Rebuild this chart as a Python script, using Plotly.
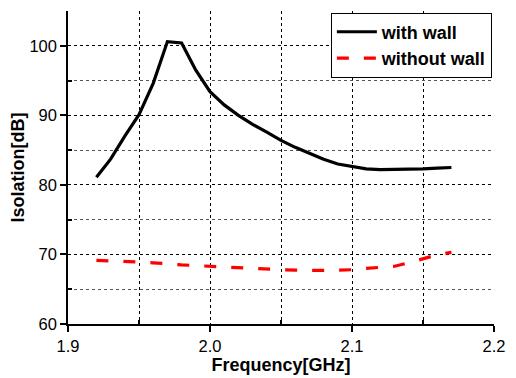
import plotly.graph_objects as go

freq = [1.92, 1.93, 1.94, 1.95, 1.96, 1.97, 1.98, 1.99, 2.00, 2.01, 2.02, 2.03, 2.04,
        2.05, 2.06, 2.07, 2.08, 2.09, 2.10, 2.11, 2.12, 2.13, 2.14, 2.15, 2.16, 2.17]
with_wall = [81.1, 83.7, 87.0, 90.1, 94.6, 100.6, 100.4, 96.5, 93.4, 91.5, 90.0, 88.7, 87.6,
             86.4, 85.4, 84.5, 83.7, 83.0, 82.6, 82.3, 82.2, 82.2, 82.2, 82.3, 82.4, 82.5]
without_wall = [69.15, 69.1, 69.0, 68.9, 68.8, 68.6, 68.5, 68.4, 68.3, 68.2, 68.1, 67.95, 67.8,
                67.8, 67.75, 67.7, 67.7, 67.75, 67.8, 68.0, 68.1, 68.3, 68.8, 69.35, 69.95, 70.3]

FONT = "Liberation Sans, Arial, sans-serif"

fig = go.Figure()
fig.add_trace(go.Scatter(x=freq, y=with_wall, mode="lines", name="with wall",
                         line=dict(color="black", width=3.2)))
fig.add_trace(go.Scatter(x=freq, y=without_wall, mode="lines", name="without wall",
                         line=dict(color="#ff0000", width=3.2, dash="12px,15px")))

fig.update_layout(
    width=516, height=378,
    margin=dict(l=68, r=16, t=11, b=49),
    paper_bgcolor="white", plot_bgcolor="white",
    font=dict(family=FONT, size=16.5, color="black"),
    showlegend=True,
    legend=dict(x=0.995, y=0.995, xanchor="right", yanchor="top",
                bordercolor="black", borderwidth=1, bgcolor="white",
                font=dict(family=FONT, size=18, color="black", weight="bold"),
                tracegroupgap=0, itemwidth=40),
)

fig.update_xaxes(
    range=[1.9, 2.2], tickvals=[1.9, 2.0, 2.1, 2.2], ticktext=["1.9", "2.0", "2.1", "2.2"],
    showline=True, linecolor="black", linewidth=1.5,
    ticks="outside", ticklen=6, tickwidth=1.5, tickcolor="black",
    showgrid=True, gridcolor="black", gridwidth=1, griddash="dot",
    minor=dict(tickvals=[1.95, 2.05, 2.15], ticks="inside", ticklen=4, tickcolor="black",
               showgrid=True, gridcolor="black", gridwidth=1, griddash="dot"),
    zeroline=False,
    title=dict(text="<b>Frequency[GHz]</b>", font=dict(family=FONT, size=18), standoff=0),
    tickfont=dict(family=FONT, size=16.5),
)
fig.update_yaxes(
    range=[60, 105], tickvals=[60, 70, 80, 90, 100],
    showline=True, linecolor="black", linewidth=1.5,
    ticks="outside", ticklen=6, tickwidth=1.5, tickcolor="black",
    showgrid=True, gridcolor="black", gridwidth=1, griddash="dot",
    minor=dict(tickvals=[65, 75, 85, 95], ticks="inside", ticklen=4, tickcolor="black",
               showgrid=True, gridcolor="#555555", gridwidth=1, griddash="dot"),
    zeroline=False,
    title=dict(text="<b>Isolation[dB]</b>", font=dict(family=FONT, size=18), standoff=0),
    tickfont=dict(family=FONT, size=16.5),
)

fig.write_html("out.html")
